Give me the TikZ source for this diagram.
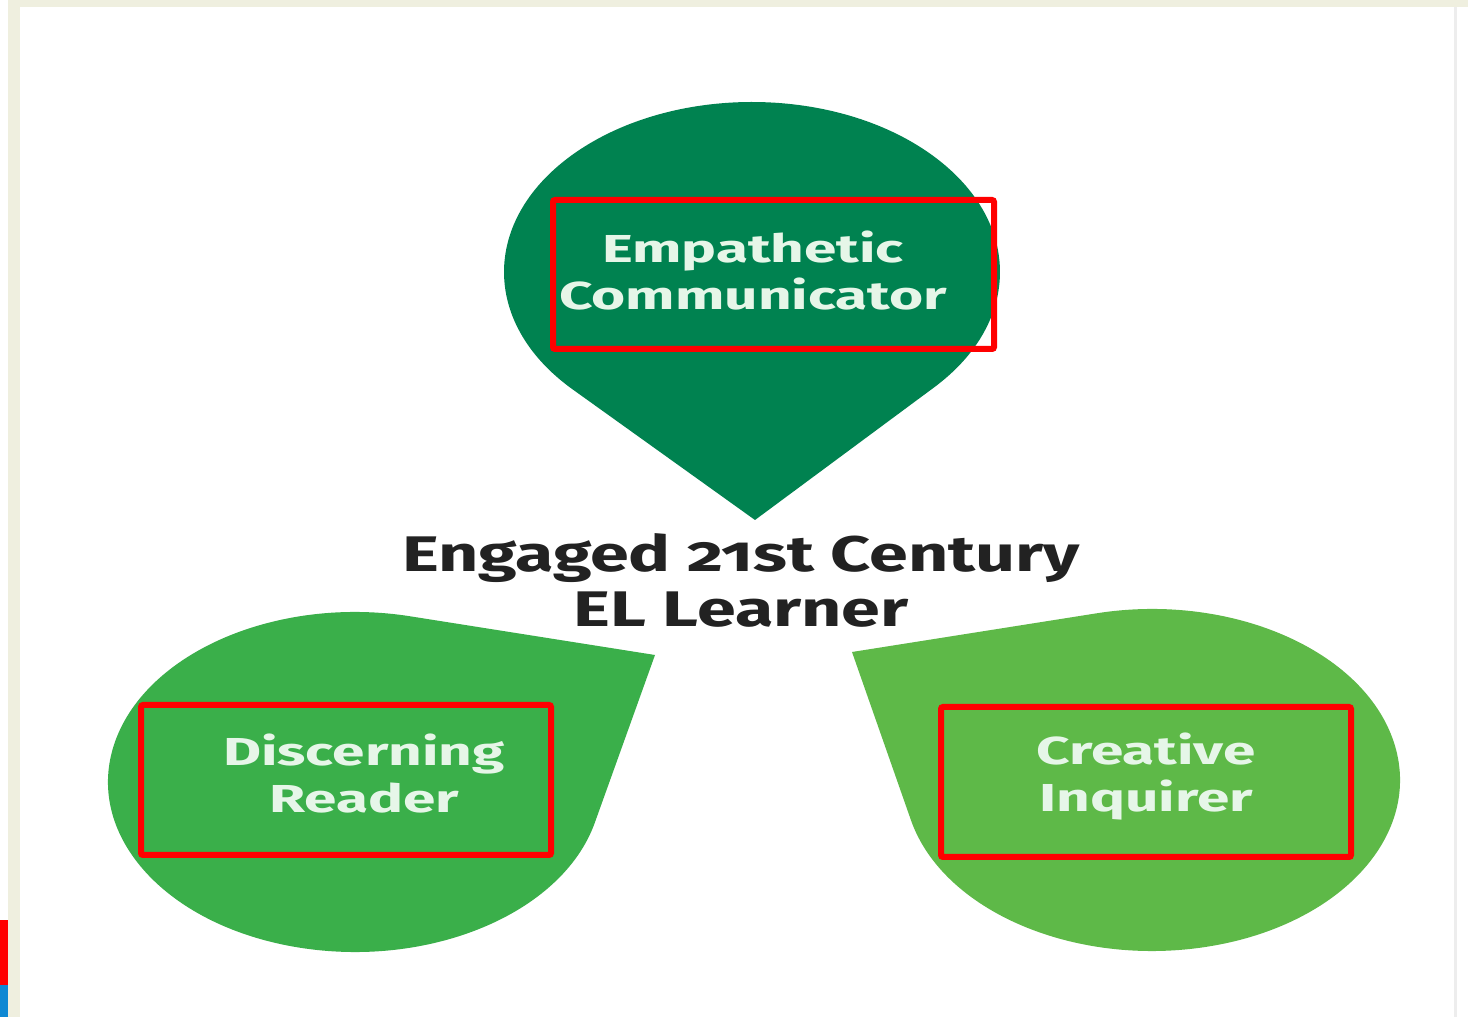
\documentclass[tikz,border=0pt]{standalone}
\usepackage{fontspec}
\usetikzlibrary{calc}
\setmainfont{Fira Sans}
\newfontfamily\lblfont[FakeStretch=1.5]{Fira Sans}
\newfontfamily\ttlfont[FakeStretch=1.4,Numbers=OldStyle]{Fira Sans}
\definecolor{dgreen}{HTML}{008250}
\definecolor{mgreen}{HTML}{3AAF4A}
\definecolor{lgreen}{HTML}{5EB948}
\definecolor{mint}{HTML}{E6F6E8}
\definecolor{ink}{HTML}{222222}
\definecolor{pale}{HTML}{EFEFDF}
\tikzset{
  lbl/.style={text=mint, font=\lblfont\bfseries\fontsize{39}{47}\selectfont, align=center, inner sep=0pt},
  ttl/.style={text=ink, font=\ttlfont\bfseries\fontsize{50}{55}\selectfont, align=center, inner sep=0pt},
  redbox/.style={draw=red, line width=6pt, rounded corners=2pt}
}
\begin{document}
\begin{tikzpicture}[x=1pt,y=1pt]
\useasboundingbox (0,0) rectangle (1468,1017);
\fill[white] (0,0) rectangle (1468,1017);
% screenshot frame
\fill[pale] (8,0) rectangle (20,1017);
\fill[pale] (8,1010) rectangle (1468,1017);
\fill[black!7] (1454,0) rectangle (1457,1010);
\fill[red] (0,32) rectangle (8,97);
\fill[cyan!70!blue] (0,0) rectangle (8,32);
% centres and tips
\coordinate (ctop) at (752,745);
\coordinate (ttop) at (755,497);
\coordinate (cleft) at (355,235);
\coordinate (tleft) at (655,362);
\coordinate (cright) at (1152,237);
\coordinate (tright) at (852,365);
% leaves
\fill[dgreen] (ttop) -- ($(ctop)+(223.8:248pt and 170pt)$)
  arc[start angle=223.8, end angle=-42.8, x radius=248pt, y radius=170pt] -- cycle;
\fill[mgreen] (tleft) -- ($(cleft)+(-13.9:247pt and 170pt)$)
  arc[start angle=-13.9, end angle=-282.9, x radius=247pt, y radius=170pt] -- cycle;
\fill[lgreen] (tright) -- ($(cright)+(102.9:248pt and 171pt)$)
  arc[start angle=102.9, end angle=-166.4, x radius=248pt, y radius=171pt] -- cycle;
% labels
\node[lbl] (emp) at (753,746) {Empathetic\\Communicator};
\node[lbl] (disc) at (364,243) {Discerning\\Reader};
\node[lbl] (crea) at (1146,240) {Creative\\Inquirer};
\node[ttl] (title) at (741,437) {Engaged 21st Century\\EL Learner};
% red frames
\draw[redbox] (553,817) rectangle (994,668);
\draw[redbox] (141,312) rectangle (551,162);
\draw[redbox] (941,310) rectangle (1351,160);
\end{tikzpicture}
\end{document}
